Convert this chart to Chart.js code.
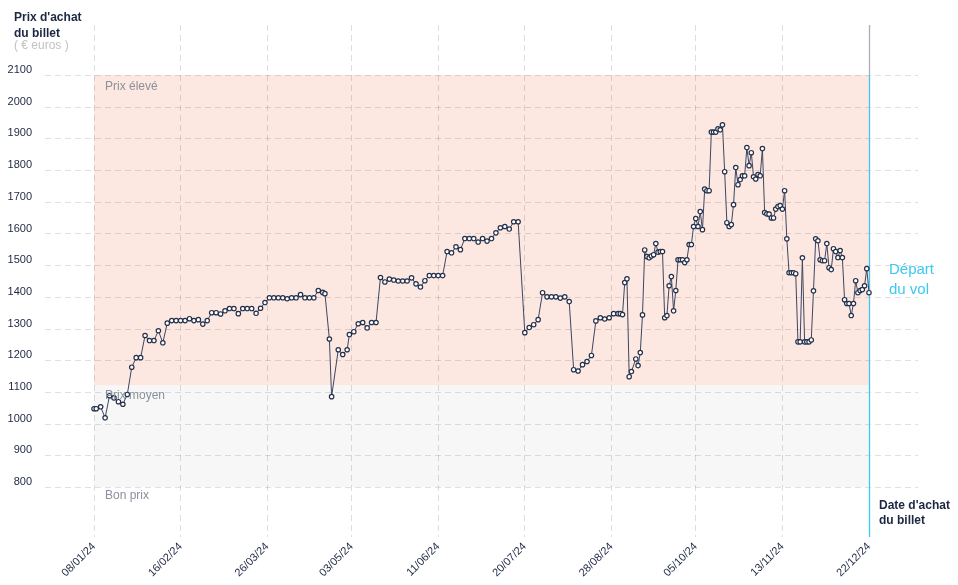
<!DOCTYPE html>
<html><head><meta charset="utf-8">
<script src="https://cdn.jsdelivr.net/npm/chart.js@4.4.1/dist/chart.umd.min.js"></script>
<style>html,body{margin:0;padding:0;background:#fff;}#wrap{width:958px;height:585px;position:relative;}</style>
</head><body><div id="wrap"><canvas id="c" width="958" height="585"></canvas></div>
<script>
// x = days since 08/01/24
const tickDays = [0,39,78,116,155,194,233,271,310,349];
const tickLabels = ['08/01/24','16/02/24','26/03/24','03/05/24','11/06/24','20/07/24','28/08/24','05/10/24','13/11/24','22/12/24'];
const yTicks = [800,900,1000,1100,1200,1300,1400,1500,1600,1700,1800,1900,2000,2100];
const highBand = [1120, 2100];
const midBand = [800, 1120];
const purchaseDays = [0,1,3,5,7,9,11,13,15,17,19,21,23,25,27,29,31,33,35,37,39,41,43,45,47,49,51,53,55,57,59,61,63,65,67,69,71,73,75,77,79,81,83,85,87,89,91,93,95,97,99,101,103,104,106,107,110,112,114,115,117,119,121,123,125,127,129,131,133,135,137,139,141,143,145,147,149,151,153,155,157,159,161,163,165,167,169,171,173,175,177,179,181,183,185,187,189,191,194,196,198,200,202,204,206,208,210,212,214,216,218,220,222,224,226,228,230,232,234,236,237,238,239,240,241,242,244,245,246,247,248,249,250,251,252,253,254,255,256,257,258,259,260,261,262,263,264,265,266,267,268,269,270,271,272,273,274,275,276,277,278,279,280,281,282,283,284,285,286,287,288,289,290,291,292,293,294,295,296,297,298,299,300,301,302,303,304,305,306,307,308,309,310,311,312,313,314,315,316,317,318,319,320,321,322,323,324,325,326,327,328,329,330,331,332,333,334,335,336,337,338,339,340,341,342,343,344,345,346,347,348,349,350];
const prices = [1047,1047,1053,1018,1088,1081,1069,1061,1092,1178,1208,1208,1278,1262,1262,1293,1255,1317,1325,1325,1325,1325,1331,1325,1328,1314,1325,1350,1350,1346,1356,1363,1363,1347,1363,1363,1363,1348,1364,1382,1397,1397,1397,1397,1394,1397,1397,1407,1397,1397,1397,1420,1414,1410,1267,1085,1233,1218,1233,1281,1290,1315,1319,1302,1319,1319,1461,1447,1456,1453,1450,1450,1450,1460,1441,1431,1451,1467,1467,1467,1467,1543,1539,1558,1549,1584,1584,1584,1573,1584,1576,1584,1602,1618,1622,1614,1637,1637,1287,1303,1312,1328,1413,1400,1400,1400,1396,1400,1385,1170,1166,1186,1196,1215,1324,1334,1330,1334,1347,1347,1347,1344,1445,1457,1148,1164,1204,1183,1224,1343,1548,1527,1523,1529,1533,1568,1541,1543,1543,1334,1341,1435,1464,1356,1420,1517,1517,1517,1508,1517,1565,1565,1622,1647,1622,1669,1612,1740,1735,1735,1920,1920,1920,1930,1927,1943,1795,1634,1622,1628,1691,1808,1754,1770,1782,1782,1871,1814,1855,1779,1772,1786,1782,1868,1666,1662,1661,1649,1649,1677,1685,1688,1677,1735,1583,1476,1476,1476,1473,1258,1258,1523,1258,1258,1258,1264,1419,1583,1577,1517,1514,1514,1568,1492,1486,1552,1543,1524,1546,1524,1391,1379,1379,1341,1379,1451,1413,1420,1423,1435,1489,1413,1454];

const FONT = "'Liberation Sans', Arial, sans-serif";
const NAVY = '#1c2741';

const deco = {
  id: 'deco',
  beforeDraw(chart) {
    const {ctx, chartArea: a, scales: {x, y}} = chart;
    ctx.save();
    let t = y.getPixelForValue(highBand[1]), b = y.getPixelForValue(highBand[0]);
    ctx.fillStyle = '#fde7e1';
    ctx.fillRect(a.left, t, a.right - a.left, b - t);
    t = b; b = y.getPixelForValue(midBand[0]);
    ctx.fillStyle = '#f7f7f7';
    ctx.fillRect(a.left, t, a.right - a.left, b - t);
    ctx.setLineDash([6, 4]);
    ctx.strokeStyle = 'rgba(0,0,0,0.12)';
    ctx.lineWidth = 1;
    yTicks.forEach(v => {
      const py = Math.round(y.getPixelForValue(v)) + 0.5;
      ctx.beginPath(); ctx.moveTo(45, py); ctx.lineTo(918, py); ctx.stroke();
    });
    ctx.restore();
  },
  beforeDatasetsDraw(chart) {
    const {ctx, chartArea: a, scales: {x, y}} = chart;
    const px = Math.round(x.getPixelForValue(tickDays[tickDays.length - 1])) + 0.5;
    ctx.save();
    ctx.lineWidth = 1.3;
    ctx.strokeStyle = '#a9adb5';
    ctx.beginPath(); ctx.moveTo(px, a.top); ctx.lineTo(px, y.getPixelForValue(highBand[1])); ctx.stroke();
    ctx.strokeStyle = '#3cc8f0';
    ctx.beginPath(); ctx.moveTo(px, y.getPixelForValue(highBand[1])); ctx.lineTo(px, a.bottom); ctx.stroke();
    ctx.restore();
  },
  afterDraw(chart) {
    const {ctx} = chart;
    ctx.save();
    ctx.textBaseline = 'middle';
    ctx.textAlign = 'left';
    ctx.fillStyle = NAVY;
    ctx.font = 'bold 12px ' + FONT;
    ctx.fillText("Prix d'achat", 14, 18);
    ctx.fillText('du billet', 14, 34);
    ctx.fillText("Date d'achat", 879, 506);
    ctx.fillText('du billet', 879, 521);
    ctx.fillStyle = '#c2c2c2';
    ctx.font = '12px ' + FONT;
    ctx.fillText('( € euros )', 14, 46);
    ctx.fillStyle = '#8b909a';
    ctx.fillText('Prix élevé', 105, 87);
    ctx.fillText('Prix moyen', 105, 396);
    ctx.fillText('Bon prix', 105, 496);
    ctx.fillStyle = '#3cc8f0';
    ctx.font = '15px ' + FONT;
    ctx.fillText('Départ', 889, 270);
    ctx.fillText('du vol', 889, 290);
    ctx.restore();
  }
};

new Chart(document.getElementById('c'), {
  type: 'line',
  data: {
    datasets: [{
      data: purchaseDays.map((d, i) => ({x: d, y: prices[i]})),
      borderColor: '#3b4761',
      borderWidth: 1,
      pointRadius: 2.2,
      pointBackgroundColor: '#ffffff',
      pointBorderColor: '#24304a',
      pointBorderWidth: 1.2,
      tension: 0,
      clip: false
    }]
  },
  options: {
    responsive: false,
    animation: false,
    devicePixelRatio: 1,
    layout: {padding: {top: 25, right: 89, bottom: 0, left: 0}},
    plugins: {legend: {display: false}, tooltip: {enabled: false}},
    scales: {
      x: {
        type: 'linear', min: 0, max: 349,
        afterBuildTicks: s => { s.ticks = tickDays.map(v => ({value: v})); },
        afterFit: s => { s.height = 48; },
        ticks: {
          callback: v => tickLabels[tickDays.indexOf(v)],
          autoSkip: false, minRotation: 45, maxRotation: 45,
          font: {size: 11, family: FONT}, color: NAVY, padding: 3
        },
        grid: {color: 'rgba(0,0,0,0.13)', drawTicks: false, lineWidth: 1},
        border: {display: false, dash: [6, 4]}
      },
      y: {
        min: 642, max: 2258,
        afterBuildTicks: s => { s.ticks = yTicks.map(v => ({value: v})); },
        afterFit: s => { s.width = 94; },
        ticks: {callback: v => String(v), font: {size: 11, family: FONT}, color: NAVY, padding: 0, labelOffset: -5},
        grid: {display: true, drawOnChartArea: false, drawTicks: true, tickLength: 62, color: 'rgba(0,0,0,0)'},
        border: {display: false}
      }
    }
  },
  plugins: [deco]
});
</script>
</body></html>
